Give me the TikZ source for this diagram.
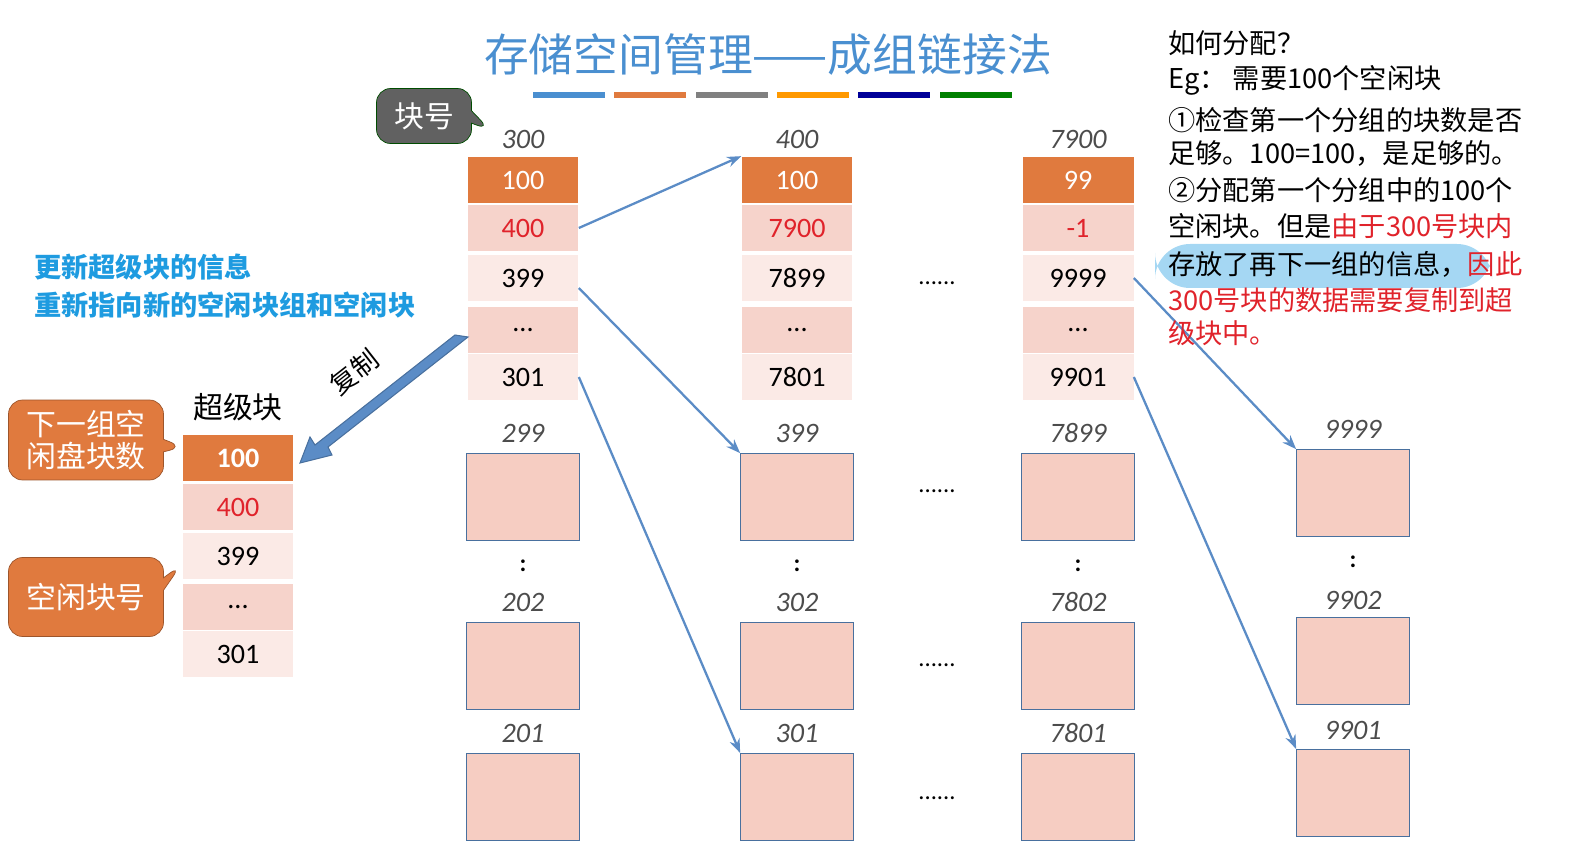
\documentclass[tikz,border=0pt]{standalone}
\usepackage{fontspec}
\setmainfont{Carlito}
\newfontfamily\cjk{Noto Sans CJK SC}
\usetikzlibrary{arrows.meta,shapes.callouts}
\definecolor{hdr}{HTML}{E07A3E}
\definecolor{pk}{HTML}{F6D3CB}
\definecolor{lp}{HTML}{FBEAE6}
\definecolor{bx}{HTML}{F6CDC2}
\definecolor{ln}{HTML}{5B8CC6}
\definecolor{ttl}{HTML}{4A8FD0}
\definecolor{cy}{HTML}{1E9BE0}
\definecolor{rd}{HTML}{E0232B}
\begin{document}
\begin{tikzpicture}[x=0.02cm,y=-0.02cm,
  cell/.style={minimum width=2.22cm,minimum height=0.94cm,inner sep=0pt,font=\fontsize{16}{16}\selectfont},
  head/.style={cell,fill=hdr,text=white},
  red/.style={cell,fill=pk,text=rd},
  odd/.style={cell,fill=lp},
  even/.style={cell,fill=pk},
  blk/.style={draw=ln!80!black,fill=bx,minimum width=2.26cm,minimum height=1.74cm,inner sep=0pt},
  num/.style={font=\fontsize{16}{16}\selectfont\itshape,text=black!70},
  dots/.style={font=\fontsize{14}{14}\selectfont,inner sep=0pt},
  link/.style={draw=ln,line width=1.3pt,-{Stealth[length=8pt]}},
  note/.style={anchor=west,font=\cjk\fontsize{15.5}{15.5}\selectfont}]
\useasboundingbox (0,0) rectangle (1576,841);
% title
\node[font=\cjk\fontsize{25.5}{25.5}\selectfont,text=ttl] (title) at (768,55) {存储空间管理——成组链接法};
\foreach \x/\c in {533/ttl,614/hdr,696/gray,777/orange!80!yellow,858/blue!60!black,940/green!50!black}
  \fill[\c] (\x,92) rectangle +(72,6);
% columns of group blocks
\foreach \cx/\id/\a/\b/\c/\e in {523/p/300/100/400/399, 797/q/400/100/7900/7899, 1078/r/7900/99/-1/9999}{
  \node[num] at (\cx,139) {\a};
  \node[head] (\id1) at (\cx,180) {\b};
  \node[red]  (\id2) at (\cx,228) {\c};
  \node[odd]  (\id3) at (\cx,278) {\e};
  \node[even] (\id4) at (\cx,330) {...};
}
\node[odd] (p5) at (523,377) {301};
\node[odd] (q5) at (797,377) {7801};
\node[odd] (r5) at (1078,377) {9901};
% free blocks
\foreach \cx/\id/\a/\b/\c in {523/p/299/202/201, 797/q/399/302/301, 1078/r/7899/7802/7801}{
  \node[num] at (\cx,433) {\a};
  \node[blk] (\id b1) at (\cx,497) {};
  \node[dots] at (\cx,566) {\textbf{:}};
  \node[num] at (\cx,602) {\b};
  \node[blk] (\id b2) at (\cx,666) {};
  \node[num] at (\cx,733) {\c};
  \node[blk,anchor=north] (\id b3) at (\cx,753) {};
}
\node[num] at (1353,429) {9999};
\node[blk] (sb1) at (1353,493) {};
\node[dots] at (1353,562) {\textbf{:}};
\node[num] at (1353,600) {9902};
\node[blk] (sb2) at (1353,661) {};
\node[num] at (1353,730) {9901};
\node[blk,anchor=north] (sb3) at (1353,749) {};
\foreach \y in {283,491,665,798} \node[dots] at (937,\y) {......};
% super block
\node[font=\cjk\fontsize{17}{17}\selectfont] (sup) at (238,407) {超级块};
\node[head,font=\bfseries\fontsize{16}{16}\selectfont] (s1) at (238,458) {100};
\node[red]  (s2) at (238,507) {400};
\node[odd]  (s3) at (238,556) {399};
\node[even] (s4) at (238,607) {...};
\node[odd]  (s5) at (238,654) {301};
% callouts
\node[rectangle callout,rounded corners=8pt,fill=black!62,draw=green!30!black,text=white,
  font=\cjk\fontsize{17}{17}\selectfont,minimum width=1.9cm,minimum height=1.1cm,
  callout absolute pointer={(490,130)}] (kh) at (424,116) {块号};
\node[rectangle callout,rounded corners=8pt,fill=hdr,draw=hdr!70!black,text=white,align=left,
  font=\cjk\fontsize{17}{18}\selectfont,minimum width=3.1cm,minimum height=1.6cm,
  callout absolute pointer={(183,447)}] (nx) at (86,440) {下一组空\\闲盘块数};
\node[rectangle callout,rounded corners=8pt,fill=hdr,draw=hdr!70!black,text=white,
  font=\cjk\fontsize{17}{17}\selectfont,minimum width=3.1cm,minimum height=1.58cm,
  callout absolute pointer={(181,565)}] (fr) at (86,597) {空闲块号};
% left notes
\node[note,text=cy,font=\cjk\bfseries\fontsize{15.5}{15.5}\selectfont] (n1) at (28,267) {更新超级块的信息};
\node[note,text=cy,font=\cjk\bfseries\fontsize{15.5}{15.5}\selectfont] (n2) at (28,305) {重新指向新的空闲块组和空闲块};
% copy arrow
\coordinate (cp) at (465,333);
\draw[draw=ln!80!black,fill=ln,line width=0.6pt]
  (cp) ++(3,4) -- ++(-140,110) -- ++(4,8) -- (300,463) -- ++(10,-26) -- ++(5,8) -- ++(140,-110) -- cycle;
\node[font=\cjk\fontsize{15}{15}\selectfont,rotate=38] (cpl) at (354,372) {复制};
% links
\draw[link] (p2.east) -- (q1.north west);
\draw[link] ([yshift=-0.2cm]p3.east) -- (qb1.north west);
\draw[link] (p5.east) -- (qb3.north west);
\draw[link] (r3.east) -- (sb1.north west);
\draw[link] (r5.east) -- (sb3.north west);
% right notes
\fill[cy!40,rounded corners=20] (1155,244) rectangle (1492,288);
\node[note] (r1) at (1162,43) {如何分配？};
\node[note] (r2) at (1162,80) {Eg：  需要100个空闲块};
\node[note] (r3) at (1162,120) {①检查第一个分组的块数是否};
\node[note] (r4) at (1162,153) {足够。100=100，是足够的。};
\node[note] (r5) at (1162,190) {②分配第一个分组中的100个};
\node[note] (r6) at (1162,226) {空闲块。但是\textcolor{rd}{由于300号块内}};
\node[note] (r7) at (1162,264) {存放了再下一组的信息，\textcolor{rd}{因此}};
\node[note,text=rd] (r8) at (1162,300) {300号块的数据需要复制到超};
\node[note,text=rd] (r9) at (1162,333) {级块中。};
\end{tikzpicture}
\end{document}
